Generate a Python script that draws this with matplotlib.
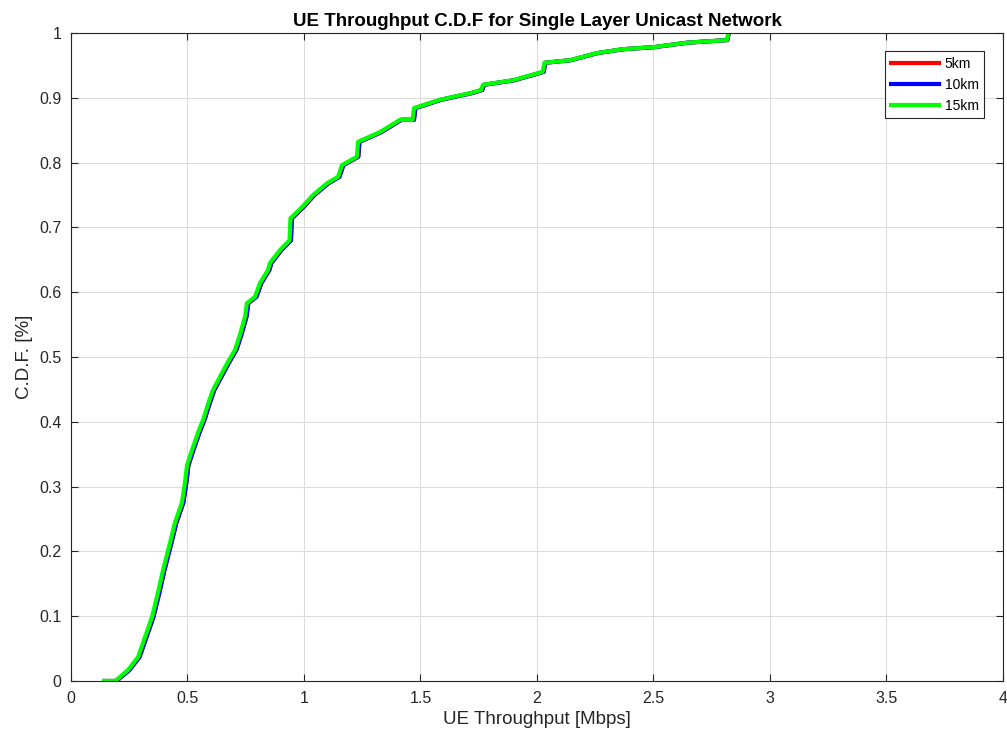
import matplotlib
matplotlib.use("Agg")
import matplotlib.pyplot as plt

plt.rcParams['font.family'] = ['Liberation Sans', 'DejaVu Sans']

# CDF values (shared)
cdf = [0.0, 0.0, 0.017, 0.037, 0.068, 0.099, 0.136, 0.171, 0.213, 0.244, 0.275, 0.306,
       0.333, 0.356, 0.383, 0.403, 0.427, 0.449, 0.469, 0.49, 0.511, 0.534, 0.562, 0.583,
       0.593, 0.614, 0.634, 0.645, 0.665, 0.68, 0.714, 0.731, 0.75, 0.768, 0.778, 0.796,
       0.809, 0.832, 0.847, 0.866, 0.866, 0.884, 0.897, 0.907, 0.912, 0.92, 0.927, 0.94,
       0.954, 0.958, 0.969, 0.975, 0.978, 0.985, 0.989, 1.0]

thr_15km = [0.142, 0.19, 0.245, 0.288, 0.318, 0.348, 0.373, 0.395, 0.425, 0.446, 0.476, 0.489,
            0.498, 0.519, 0.545, 0.567, 0.588, 0.609, 0.639, 0.67, 0.704, 0.725, 0.747, 0.755,
            0.79, 0.811, 0.845, 0.854, 0.897, 0.938, 0.942, 0.991, 1.039, 1.099, 1.146, 1.163,
            1.227, 1.232, 1.326, 1.412, 1.466, 1.472, 1.584, 1.712, 1.76, 1.768, 1.897, 2.024,
            2.032, 2.142, 2.258, 2.369, 2.498, 2.644, 2.815, 2.822]

thr_10km = [0.146, 0.195, 0.251, 0.294, 0.324, 0.354, 0.379, 0.401, 0.431, 0.452, 0.482, 0.495,
            0.504, 0.525, 0.551, 0.573, 0.594, 0.615, 0.645, 0.676, 0.710, 0.731, 0.753, 0.761,
            0.796, 0.817, 0.851, 0.860, 0.903, 0.944, 0.948, 0.997, 1.045, 1.105, 1.152, 1.169,
            1.233, 1.238, 1.332, 1.418, 1.472, 1.478, 1.590, 1.718, 1.765, 1.773, 1.902, 2.029,
            2.035, 2.145, 2.261, 2.372, 2.501, 2.646, 2.817, 2.823]

thr_5km = [0.146, 0.195, 0.251, 0.294, 0.324, 0.354, 0.379, 0.401, 0.431, 0.452, 0.482, 0.495,
           0.504, 0.525, 0.551, 0.573, 0.594, 0.615, 0.645, 0.676, 0.710, 0.731, 0.753, 0.761,
           0.796, 0.817, 0.851, 0.860, 0.903, 0.944, 0.948, 0.997, 1.045, 1.105, 1.152, 1.169,
           1.233, 1.238, 1.332, 1.418, 1.472, 1.478, 1.590, 1.718, 1.765, 1.773, 1.902, 2.029,
           2.035, 2.145, 2.261, 2.372, 2.501, 2.646, 2.817, 2.823]

labels = ['5km', '10km', '15km']
colors = ['#ff0000', '#0000ff', '#00ff00']
x_ticks = [0, 0.5, 1, 1.5, 2, 2.5, 3, 3.5, 4]
y_ticks = [0, 0.1, 0.2, 0.3, 0.4, 0.5, 0.6, 0.7, 0.8, 0.9, 1]

fig = plt.figure(figsize=(10.07, 7.44), dpi=100)
ax = fig.add_axes([0.0705, 0.0847, 0.9255, 0.871])

for xs, lab, c in zip([thr_5km, thr_10km, thr_15km], labels, colors):
    ax.plot(xs, cdf, color=c, lw=3, label=lab, solid_joinstyle='round')

ax.set_xlim(0, 4)
ax.set_ylim(0, 1)
ax.set_xticks(x_ticks)
ax.set_xticklabels([f'{t:g}' for t in x_ticks])
ax.set_yticks(y_ticks)
ax.set_yticklabels([f'{t:g}' for t in y_ticks])
ax.grid(True, color='#dcdcdc', lw=0.8)
ax.set_axisbelow(True)
for s in ax.spines.values():
    s.set_color('#262626')
    s.set_linewidth(0.8)
ax.tick_params(direction='in', length=5, colors='#262626', labelsize=11.5, top=True, right=True,
               labeltop=False, labelright=False, pad=7)

ax.set_xlabel('UE Throughput [Mbps]', fontsize=13.5, color='#262626')
ax.set_ylabel('C.D.F. [%]', fontsize=13.5, color='#262626')
ax.set_title('UE Throughput C.D.F for Single Layer Unicast Network', fontsize=13.5,
             fontweight='bold', pad=5)

leg = ax.legend(loc='upper right', bbox_to_anchor=(0.98, 0.972), fontsize=10,
                fancybox=False, edgecolor='#262626', framealpha=1, handlelength=3.5,
                handletextpad=0.4, borderaxespad=0, labelspacing=0.5, borderpad=0.4)
leg.get_frame().set_linewidth(0.8)

fig.savefig('out.png', dpi=100)
